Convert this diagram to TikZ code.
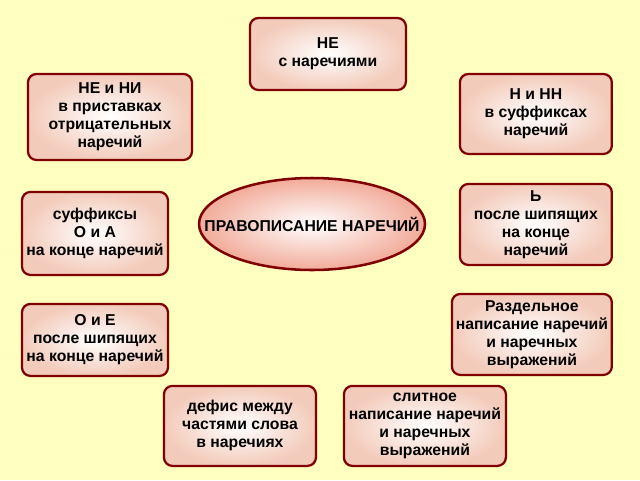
\documentclass[tikz,border=0pt]{standalone}
\usepackage{fontspec}
\setmainfont{Liberation Sans}
\usetikzlibrary{shapes.geometric}
\definecolor{bg}{RGB}{255,255,192}
\definecolor{rim}{RGB}{128,0,0}
\definecolor{pinkout}{RGB}{240,190,170}
\tikzset{
  box/.style={draw=rim,line width=1.6pt,rounded corners=6pt,inner color=white,outer color=pinkout!80!white,
    align=center,font=\bfseries\fontsize{11.2}{12.8}\selectfont,inner sep=0pt},
}
\newcommand{\rbox}[6]{% name, x1, y1, x2, y2, text
  \node[box,minimum width={(#4-#2)*0.025cm},minimum height={(#5-#3)*0.025cm}] (#1)
    at ({(#2+#4)/2*0.025},{-(#3+#5)/2*0.025}) {#6};}
\begin{document}
\begin{tikzpicture}
  \fill[bg] (0,0) rectangle (16,-12);
  \useasboundingbox (0,0) rectangle (16,-12);
  \rbox{ne}{250}{18}{406}{90}{НЕ\\с наречиями}
  \rbox{neni}{28}{74}{192}{160}{НЕ и НИ\\в приставках\\отрицательных\\наречий}
  \rbox{nnn}{460}{74}{612}{154}{Н и НН\\в суффиксах\\наречий}
  \rbox{soft}{460}{184}{612}{265}{Ь\\после шипящих\\на конце\\наречий}
  \rbox{suff}{22}{192}{168}{275}{суффиксы\\О и А\\на конце наречий}
  \rbox{razd}{452}{294}{612}{375}{Раздельное\\написание наречий\\и наречных\\выражений}
  \rbox{oe}{22}{304}{168}{376}{О и Е\\после шипящих\\на конце наречий}
  \rbox{defis}{164}{386}{316}{466}{дефис между\\частями слова\\в наречиях}
  \rbox{slit}{344}{386}{506}{466}{слитное\\написание наречий\\и наречных\\выражений}
  \node[ellipse,draw=rim,line width=1.8pt,inner color=white,outer color=pinkout!90!red,
    minimum width=5.65cm,minimum height=2.3cm] (main) at (7.8,-5.6) {};
  \node[font=\bfseries\fontsize{11.2}{12.8}\selectfont] (title) at (main) {ПРАВОПИСАНИЕ НАРЕЧИЙ};
\end{tikzpicture}
\end{document}
